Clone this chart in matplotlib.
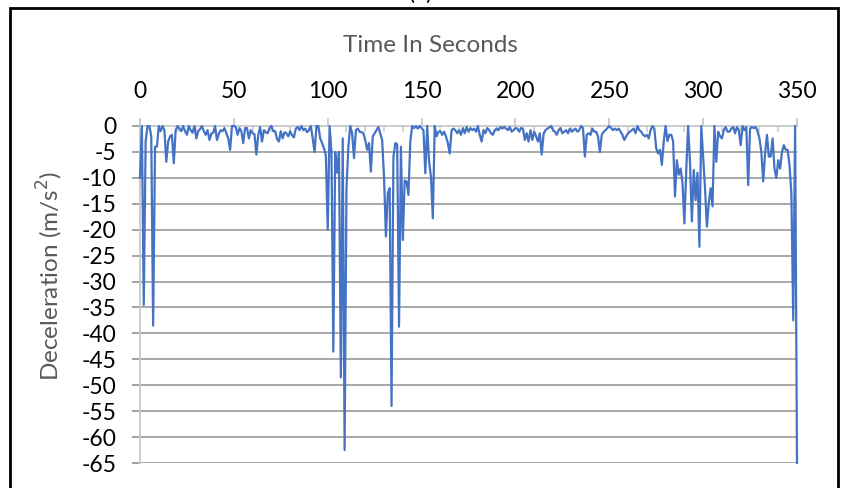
import numpy as np
import matplotlib.pyplot as plt
from matplotlib.patches import Rectangle

plt.rcParams['font.family'] = ['Lato', 'DejaVu Sans']
plt.rcParams['axes.unicode_minus'] = False

# deceleration sampled once a second, t = 0 .. 350 s
decel = [
    -10, 0, -34.5, -3, 0, 0, -2, -38.5, -4, -4,
    0, -1, 0, -0.8, -6.9, -3, -2, -1.7, -7.2, -0.8,
    0, -0.5, -1, 0, -1, -1.7, 0, -0.8, -1.3, 0,
    -2.4, -1, -0.6, 0, -1, -1.7, -0.8, -2.7, -1.5, -1.3,
    0, -2.7, -1.5, -0.8, -1, -0.4, -1.4, -2.4, -4.6, 0,
    0, -0.2, -1.7, -0.4, -1, -3.3, -0.4, -0.4, -2.4, -0.8,
    -1.4, -1.6, -5.5, -1.7, -0.2, -3, -0.8, -1.2, -1.4, -0.4,
    0, -1, -1, -2.5, -3, -1, -2.4, -1.2, -1.4, -2,
    -1, -1.8, -2.2, -0.5, -0.2, -0.8, 0, -0.8, -0.5, -1.2,
    -0.8, 0, -2.4, -5, 0, 0, -2.4, -3.3, -4.3, -5.6,
    -20, 0, -5, -43.5, -5, -9, -5, -48.5, -2.4, -62.5,
    -12, -4, 0, -1.4, -6.2, -0.8, -0.5, -1.1, -1.2, -1.4,
    -2.7, -4.6, -3.3, -8.8, -2, -1.4, -0.8, -0.2, -1.4, -2.7,
    -9.8, -21.3, -13, -12, -54, -6, -3.3, -3.5, -38.7, -4,
    -22, -10.5, -10.7, -13.3, -3, 0, -0.4, 0, -0.5, 0,
    -0.4, -0.8, -9.1, 0, -6.9, -9.8, -17.8, 0, -2, -1.1,
    -1, -1.7, -1.1, -2, -3.3, -5.3, -0.8, -0.5, -0.8, -1.4,
    -0.8, -1.7, -0.4, -1.4, -0.2, -1.1, -0.4, -0.8, -0.5, -1.1,
    0, -1.7, -3, -0.8, -1.4, -0.4, -0.8, -1.4, -1.7, -0.8,
    -0.5, -0.8, -0.2, -0.5, -0.2, -0.5, -0.8, -0.2, -1.1, -0.8,
    -0.4, -0.5, -1.1, -0.4, -0.5, -2.7, -1.4, -3, -0.8, -2.7,
    -1.1, -2, -3, -1.4, -5.5, -1.5, -0.8, -0.5, -0.3, 0,
    -0.8, -1.1, -1.7, -0.8, -0.4, -1.4, -1.1, -0.8, -1.4, -0.5,
    -1.1, -0.8, -0.5, -1.1, -0.8, 0, -0.4, -5.9, -1.7, -1.4,
    -1.7, -0.5, -1.1, -1.1, -2, -5, -1.7, -1.1, -0.8, -0.4,
    0, -0.4, -0.8, -0.5, -0.8, -0.5, -1.1, -1.7, -2.7, -2,
    -1.4, -1.1, -0.8, -0.5, -1.4, 0, -0.8, -1.1, -1.7, -2,
    -1.7, -2.4, -0.8, 0, -0.5, -4.3, -5.3, -4.6, -7.5, -3,
    0, -2.9, -1.7, -1.7, -2.9, -13.6, -6.6, -9.4, -8.2, -11,
    -18.8, -8.5, 0, -7, -18.4, -8.5, -14.3, -9, -23.3, 0,
    -6, -12, -19.4, -14.9, -12, -15.5, 0, -6.9, -1.1, -2,
    -2.4, -0.8, -0.2, -1.1, -1.1, -0.5, -0.2, -1.4, -0.2, -0.8,
    -3.7, 0, -0.8, -0.2, -11.4, -0.5, -0.2, -0.4, -0.2, -1,
    -2.4, -5, -10.7, -5.3, -1.7, -5.9, -5.9, -2.4, -8.2, -10,
    -6.6, -8.2, -5, -3.7, -4.6, -4.6, -7.5, -13, -37.5, 0, -65,
]
time = np.arange(len(decel))

x_ticks = [0, 50, 100, 150, 200, 250, 300, 350]
y_ticks = list(range(0, -70, -5))

W, H = 841, 488
fig = plt.figure(figsize=(W/100, H/100), dpi=100)
ax = fig.add_axes([140/W, 25/H, 657/W, 337/H])

for y in y_ticks[1:]:
    ax.axhline(y, color='#9a9a9a', linewidth=1.2, zorder=1)

ax.plot(time, decel, color='#4472C4', linewidth=1.6, zorder=3, clip_on=False)

ax.set_xlim(0, 350)
ax.set_ylim(-65, 0)
ax.xaxis.tick_top()
ax.set_xticks(x_ticks)
ax.set_xticks(np.arange(0, 351, 10), minor=True)
ax.set_yticks(y_ticks)
ax.set_yticklabels([str(v) for v in y_ticks])

for s in ['right', 'bottom']:
    ax.spines[s].set_visible(False)
for s in ['top', 'left']:
    ax.spines[s].set_color('#c8c8c8')
    ax.spines[s].set_linewidth(1.3)

ax.tick_params(axis='x', which='major', direction='out', length=6, width=1.3,
               color='#c8c8c8', pad=11, labelsize=16.5, labelcolor='black')
ax.tick_params(axis='x', which='minor', direction='in', length=4, width=1.1,
               color='#c8c8c8')
ax.tick_params(axis='y', direction='out', length=6, width=1.3, color='#9a9a9a',
               pad=11, labelsize=16.5, labelcolor='black')

fig.text(430/W, 1 - 45/H, 'Time In Seconds', ha='center', va='center',
         fontsize=17.5, color='#595959')
fig.text(50/W, 1 - 276/H, 'Deceleration (m/s$^2$)', ha='center', va='center',
         rotation=90, fontsize=17.5, color='#595959')
fig.text(0.5, 1.0, '(a)', ha='center', va='baseline', fontsize=16, color='black')

fig.patches.append(Rectangle((10/W, -0.1), 828/W, 0.1 + 480/H, transform=fig.transFigure,
                             fill=False, edgecolor='black', linewidth=2))

plt.savefig('out.png', dpi=100)
